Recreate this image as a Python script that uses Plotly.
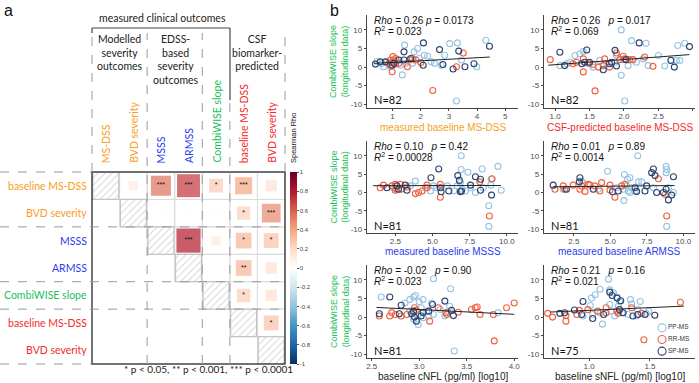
import math
import plotly.graph_objects as go

W, H = 699, 383
def px(x): return x / W
def py(y): return 1 - y / H

ORANGE = "#f5a122"
BLUE = "#2b3cf0"
GREEN = "#22c05a"
RED = "#f52a2a"
C_PP = "#97c4e3"
C_RR = "#f2603e"
C_SP = "#2b4470"

# ---------------- panel a data ----------------
row_labels = ["baseline MS-DSS", "BVD severity", "MSSS", "ARMSS", "CombiWISE slope", "baseline MS-DSS", "BVD severity"]
col_labels = ["MS-DSS", "BVD severity", "MSSS", "ARMSS", "CombiWISE slope", "baseline MS-DSS", "BVD severity"]
label_colors = [ORANGE, ORANGE, BLUE, BLUE, GREEN, RED, RED]
rho = [
    [None, 0.12, 0.55, 0.72, 0.26, 0.40, 0.17],
    [None, None, 0.02, 0.02, -0.03, 0.24, 0.48],
    [None, None, None, 0.80, 0.12, 0.34, 0.30],
    [None, None, None, None, 0.01, 0.34, 0.18],
    [None, None, None, None, None, 0.25, 0.18],
    [None, None, None, None, None, None, 0.30],
    [None, None, None, None, None, None, None],
]
stars = [
    ["", "", "***", "***", "*", "***", ""],
    ["", "", "", "", "", "*", "***"],
    ["", "", "", "***", "", "*", "*"],
    ["", "", "", "", "", "**", ""],
    ["", "", "", "", "", "*", ""],
    ["", "", "", "", "", "", "*"],
    ["", "", "", "", "", "", ""],
]
cbar_vals = [1, 0.8, 0.6, 0.4, 0.2, 0, -0.2, -0.4, -0.6, -0.8, -1]
cbar_text = ["1", "0.8", "0.6", "0.4", "0.2", "0", "-0.2", "-0.4", "-0.6", "-0.8", "-1"]

# ---------------- panel b data ----------------
# Panel 1: measured baseline MS-DSS
p1_pp_x = [1.43,1.77,1.89,2.13,2.25,2.85,3.03,3.3,3.45,3.99,4.31,1.35,3.27,2.37,1.59,1.29,0.69,0.81,1.17,1.71,2.49,2.73,1.95,1.47,0.93,0.63,0.45]
p1_pp_y = [5.9,4.1,5.0,3.2,2.9,3.2,6.3,6.5,1.9,0.1,7.2,-2.1,-9.1,1.4,1.9,0.5,0.1,1.4,1.9,1.0,1.0,0.5,2.3,1.0,0.1,1.0,1.5]
p1_sp_x = [2.1,1.41,2.67,3.35,4.44,2.09,2.79,3.15,3.57,3.89,0.75,1.05,1.23,1.41,0.99,1.65,0.57,0.4]
p1_sp_y = [6.5,4.1,4.7,4.3,5.6,0.5,0.7,-0.5,0.1,0.9,1.4,1.0,1.9,1.9,0.5,2.3,1.4,0.8]
p1_rr_x = [1.02,1.05,0.99,1.11,0.93,0.99,1.53,1.62,1.71,2.01,2.43,3.27,3.51,1.11,0.93,1.23,0.87,1.83]
p1_rr_y = [2.8,1.9,1.2,0.8,0.5,-1.25,0.1,2.05,2.3,1.2,-6.3,0.1,3.8,2.3,1.9,1.0,1.0,1.9]
p1_fit_x = [0.35, 4.45]
p1_fit_y = [1.0, 2.7]

# Panel 2: CSF-predicted baseline MS-DSS
p2_pp_x = [1.96,2.11,2.32,2.78,2.88,2.5,2.01,1.96,1.29,1.36,1.41,1.65,1.75,1.87,1.89,2.06,2.18,2.35,2.59,2.76,2.81,1.07,1.17,1.22,1.5,1.55,1.99,2.28]
p2_pp_y = [10.0,7.1,6.4,5.8,6.4,3.1,-9.1,-2.2,3.1,3.6,4.2,1.8,0.9,1.3,3.1,0.4,1.3,0.4,0.3,1.8,1.8,0.4,0.9,1.3,0.9,0.0,2.0,2.2]
p2_sp_x = [1.07,1.46,1.87,2.22,2.95,2.68,2.73,1.14,1.39,1.5,1.7,1.79,1.89,2.03,1.43,1.82]
p2_sp_y = [4.0,4.6,4.5,6.5,5.5,1.8,0.0,0.4,0.9,1.3,-0.7,0.9,0.3,2.0,1.3,1.3]
p2_rr_x = [0.93,1.41,1.41,1.48,1.55,1.63,1.7,1.79,1.58,1.89,1.94,2.01,2.08,2.13,2.3,2.42,1.99,1.72,1.26,1.31]
p2_rr_y = [2.0,2.2,-1.3,1.1,0.7,0.0,0.4,0.0,-6.4,3.8,2.0,2.2,2.0,2.0,2.7,0.2,2.9,2.2,0.9,1.3]
p2_fit_x = [0.9, 2.95]
p2_fit_y = [0.5, 3.35]

# Panel 3: measured baseline MSSS
p3_pp_x = [6.93,6.93,7.38,8.34,9.4,8.95,8.79,8.79,9.62,3.85,3.51,2.39,4.86,5.08,5.26,6.43,6.66,6.88,6.99,7.56,7.89,8.41,8.92,6.0,7.22,4.52]
p3_pp_y = [10.0,6.25,5.5,6.4,7.1,3.6,-3.6,-9.2,0.6,3.1,1.8,1.3,0.4,1.8,1.3,0.4,1.8,2.7,0.9,1.3,0.0,1.3,2.0,1.8,0.4,1.3]
p3_sp_x = [5.42,4.9,6.7,6.81,7.89,8.23,7.56,8.97,3.17,3.29,2.72,5.53,5.58,6.1,6.88,6.95,8.23,1.94,2.61]
p3_sp_y = [6.4,4.0,4.6,3.3,4.3,3.6,2.0,-0.7,2.0,0.6,0.9,1.3,0.2,0.4,0.2,0.4,0.6,1.3,1.8]
p3_rr_x = [1.71,2.5,2.61,2.84,2.88,2.5,3.85,4.07,4.3,4.63,4.63,5.53,5.53,8.18,9.01,8.83,2.28,1.49,3.29]
p3_rr_y = [2.0,2.2,0.9,2.2,0.9,0.6,-0.3,0.0,0.4,2.0,1.3,2.2,-1.3,2.9,3.75,-6.4,1.8,1.3,1.5]
p3_fit_x = [1.0, 9.6]
p3_fit_y = [1.85, 1.9]

# Panel 4: measured baseline ARMSS
p4_pp_x = [6.87,4.81,5.96,6.18,6.34,6.92,7.15,8.82,8.86,8.82,8.86,5.93,9.32,3.03,3.14,1.77,4.17,5.43,6.12,6.23,6.46,6.69,5.89,7.95,8.98,6.34]
p4_pp_y = [10.0,5.8,4.9,3.6,4.0,2.9,2.9,7.1,6.25,5.4,-9.2,-2.2,0.0,3.1,2.5,0.9,0.9,1.3,1.8,0.4,1.3,0.4,0.9,1.3,1.3,0.0]
p4_sp_x = [7.95,7.83,8.06,9.32,2.91,2.87,1.08,1.99,3.83,5.15,5.54,6.69,6.8,7.49,8.17,8.82,8.98,8.63,9.2,7.37]
p4_sp_y = [6.4,5.4,4.6,4.3,4.0,2.9,2.0,0.9,0.9,0.2,0.4,1.3,0.3,1.8,0.0,0.9,-2.0,0.0,-0.7,0.4]
p4_rr_x = [1.2,1.77,1.88,2.45,2.91,3.03,3.26,3.48,3.6,3.94,4.4,4.97,5.31,5.77,5.99,8.29,8.86,8.75,4.28,4.97]
p4_rr_y = [0.9,1.8,0.9,2.0,0.9,1.8,0.3,2.2,2.0,1.8,2.7,0.7,-1.3,1.8,2.2,3.75,-6.4,-0.45,0.4,2.0]
p4_fit_x = [1.1, 9.4]
p4_fit_y = [1.55, 1.9]

# Panel 5: baseline cNFL
p5_pp_x = [3.15,3.33,2.94,2.96,3.0,2.6,2.85,2.9,3.04,3.13,3.22,3.32,3.83,2.99,3.37,3.02,3.08,3.1,3.15,3.27,3.3,2.99,2.94,3.04,2.9]
p5_pp_y = [10.3,7.6,5.4,5.8,4.1,5.4,3.8,4.7,4.7,3.8,2.05,2.9,1.2,-2.0,-9.1,2.5,1.6,0.3,0.7,0.3,1.2,0.7,-0.6,-0.2,1.6]
p5_sp_x = [2.69,2.81,2.79,2.92,2.95,2.97,3.04,3.14,3.27,3.34,3.36,3.1,3.02,2.94,2.58]
p5_sp_y = [5.4,3.2,0.9,0.9,0.0,-1.1,1.2,3.4,4.3,1.8,0.4,1.6,0.3,1.6,0.9]
p5_rr_x = [2.71,2.75,2.81,2.87,2.95,2.97,3.11,3.2,3.28,3.29,3.41,3.55,3.59,3.61,3.64,3.78,3.92,4.0,3.79,2.69,2.58]
p5_rr_y = [1.2,0.7,0.3,0.7,2.5,1.8,-1.1,2.5,1.2,0.7,1.3,2.05,2.5,2.7,0.7,0.7,2.5,3.8,-6.4,0.3,0.3]
p5_fit_x = [2.55, 4.0]
p5_fit_y = [2.6, 0.75]

# Panel 6: baseline sNFL
p6_pp_x = [1.16,1.09,1.05,1.02,1.17,1.2,1.23,1.25,1.34,1.35,1.42,1.4,1.49,1.11,1.01,0.95,1.03,1.09,1.18,1.21,1.27,1.32,1.39,1.47,1.17,1.24]
p6_pp_y = [10.2,7.5,6.0,5.1,7.3,6.5,5.4,4.2,4.7,3.6,4.2,2.0,1.6,-1.9,3.1,0.3,0.7,1.15,1.6,0.3,1.15,0.7,0.3,1.0,3.4,2.9]
p6_sp_x = [1.17,1.19,1.23,1.26,0.95,0.88,0.76,0.8,0.94,1.03,1.12,1.25,1.28,1.4,1.46,1.54,1.36]
p6_sp_y = [6.7,5.8,5.1,4.4,4.2,1.9,1.0,1.15,0.7,-0.4,0.7,2.0,1.15,0.7,0.7,0.5,0.3]
p6_rr_x = [0.66,0.7,0.81,0.81,0.92,0.99,1.07,1.14,1.14,1.23,1.24,1.35,1.43,1.45,1.75,0.9]
p6_rr_y = [1.0,0.0,0.4,-1.1,1.8,2.0,1.6,1.15,2.5,1.6,1.0,2.5,1.0,-6.1,4.0,0.7]
p6_fit_x = [0.68, 1.78]
p6_fit_y = [1.35, 2.95]

y_ticks = [-10, -5, 0, 5, 10]
y_ticktext = ["-10", "-5", "0", "5", "10"]

panel_x_titles = ["measured baseline MS-DSS", "CSF-predicted baseline MS-DSS", "measured baseline MSSS",
                  "measured baseline ARMSS", "baseline cNFL (pg/ml) [log10]", "baseline sNFL (pg/ml) [log10]"]
panel_title_colors = [ORANGE, RED, BLUE, BLUE, "#222222", "#222222"]
panel_x_ranges = [[0.1, 5.45], [0.84, 3.03], [0.6, 10.75], [0.45, 10.8], [2.45, 4.04], [0.63, 1.87]]
panel_x_ticks = [[1, 2, 3, 4, 5], [1.0, 1.5, 2.0, 2.5, 3.0], [2.5, 5.0, 7.5, 10.0], [2.5, 5.0, 7.5, 10.0],
                 [2.5, 3.0, 3.5, 4.0], [1.0, 1.5]]
panel_x_ticktext = [["1", "2", "3", "4", "5"], ["1.0", "1.5", "2.0", "2.5", "3.0"], ["2.5", "5.0", "7.5", "10.0"],
                    ["2.5", "5.0", "7.5", "10.0"], ["2.5", "3.0", "3.5", "4.0"], ["1.0", "1.5"]]
panel_rho_text = ["<i>Rho</i> = 0.26 <i>p</i> = 0.0173", "<i>Rho</i> = 0.26 \u00a0 <i>p</i> = 0.017",
                  "<i>Rho</i> = 0.10 \u00a0 <i>p</i> = 0.42", "<i>Rho</i> = 0.01 \u00a0 <i>p</i> = 0.89",
                  "<i>Rho</i> = -0.02 \u00a0 <i>p</i> = 0.90", "<i>Rho</i> = 0.21 \u00a0 <i>p</i> = 0.16"]
panel_r2_text = ["0.023", "0.069", "0.00028", "0.0014", "0.023", "0.021"]
panel_n_text = ["N=82", "N=82", "N=81", "N=81", "N=81", "N=75"]
group_names = ["PP-MS", "RR-MS", "SP-MS"]

panel_data = [
    (p1_pp_x, p1_pp_y, p1_rr_x, p1_rr_y, p1_sp_x, p1_sp_y, p1_fit_x, p1_fit_y),
    (p2_pp_x, p2_pp_y, p2_rr_x, p2_rr_y, p2_sp_x, p2_sp_y, p2_fit_x, p2_fit_y),
    (p3_pp_x, p3_pp_y, p3_rr_x, p3_rr_y, p3_sp_x, p3_sp_y, p3_fit_x, p3_fit_y),
    (p4_pp_x, p4_pp_y, p4_rr_x, p4_rr_y, p4_sp_x, p4_sp_y, p4_fit_x, p4_fit_y),
    (p5_pp_x, p5_pp_y, p5_rr_x, p5_rr_y, p5_sp_x, p5_sp_y, p5_fit_x, p5_fit_y),
    (p6_pp_x, p6_pp_y, p6_rr_x, p6_rr_y, p6_sp_x, p6_sp_y, p6_fit_x, p6_fit_y),
]

# ---------------- geometry ----------------
MAT_L, MAT_R, MAT_T, MAT_B = 92, 285, 172, 364
CELL = (MAT_R - MAT_L) / 7
COLS_X = [(367, 518), (544, 695)]
ROWS_Y = [(15, 108), (141, 233), (265, 358)]
TITLE_OFFSET = [19, 19, 18.5]
LEG_BOX = (655, 699, 322, 357)

LFONT = "Lato, Open Sans, sans-serif"
AFONT = "Liberation Sans, Arial, sans-serif"

fig = go.Figure()
layout = dict(
    width=W, height=H, margin=dict(l=0, r=0, t=0, b=0, pad=0, autoexpand=False),
    paper_bgcolor="white", plot_bgcolor="rgba(0,0,0,0)",
    showlegend=False,
    font=dict(family=AFONT, color="#222"),
)
shapes = []
annotations = []

# ---- matrix axes
layout["xaxis"] = dict(domain=[px(MAT_L), px(MAT_R)], range=[-0.5, 6.5], visible=False, fixedrange=True)
layout["yaxis"] = dict(domain=[py(MAT_B), py(MAT_T)], range=[6.5, -0.5], visible=False, fixedrange=True)

for i in range(7):
    for j in range(i, 7):
        shapes.append(dict(type="rect", xref="x", yref="y", x0=j - 0.5, x1=j + 0.5, y0=i - 0.5, y1=i + 0.5,
                           line=dict(color="#dcdcdc", width=1), layer="below"))

fig.add_trace(go.Bar(
    x=list(range(7)), y=[1] * 7, base=[i - 0.5 for i in range(7)], width=[0.94] * 7,
    xaxis="x", yaxis="y", showlegend=False, hoverinfo="skip",
    marker=dict(color="white", line=dict(color="#c4c4c4", width=1.2),
                pattern=dict(shape="/", fgcolor="#a8a8a8", bgcolor="white", size=5, solidity=0.18)),
))

mx, my, mc, ms = [], [], [], []
sx, sy, st = [], [], []
for i in range(7):
    for j in range(7):
        v = rho[i][j]
        if v is None:
            continue
        mx.append(j); my.append(i); mc.append(v)
        ms.append(max(math.sqrt(abs(v)) * CELL * 0.98, 1.5))
        if stars[i][j]:
            sx.append(j); sy.append(i); st.append(stars[i][j])

rdbu = [[0.0, "#053061"], [0.1, "#2166AC"], [0.2, "#4393C3"], [0.3, "#92C5DE"], [0.4, "#D1E5F0"],
        [0.5, "#FFFFFF"], [0.6, "#FDDBC7"], [0.7, "#F4A582"], [0.8, "#D6604D"], [0.9, "#B2182B"], [1.0, "#67001F"]]

fig.add_trace(go.Scatter(
    x=mx, y=my, mode="markers",
    xaxis="x", yaxis="y", showlegend=False, hoverinfo="skip",
    marker=dict(symbol="square", size=ms, color=mc, colorscale=rdbu, cmin=-1, cmax=1,
                line=dict(width=0),
                colorbar=dict(x=px(290), xanchor="left", y=py((MAT_T + MAT_B) / 2), yanchor="middle",
                              len=MAT_B - MAT_T, lenmode="pixels", thickness=7, thicknessmode="pixels",
                              outlinewidth=0, tickvals=cbar_vals, ticktext=cbar_text,
                              ticks="outside", ticklen=2, tickcolor="#555",
                              tickfont=dict(size=6, color="#444"), xpad=0, ypad=0)),
))
fig.add_trace(go.Scatter(
    x=sx, y=sy, mode="text", text=st, textposition="middle center",
    textfont=dict(size=7, color="#111", family=AFONT),
    xaxis="x", yaxis="y", showlegend=False, hoverinfo="skip",
))

shapes.append(dict(type="rect", xref="paper", yref="paper", x0=px(MAT_L), x1=px(MAT_R), y0=py(MAT_B), y1=py(MAT_T),
                   line=dict(color="#444", width=1.5), layer="above"))

DASH = dict(color="#9a9a9a", width=1, dash="dash")
for yy in [MAT_T, MAT_B]:
    shapes.append(dict(type="line", xref="paper", yref="paper", x0=0, x1=px(MAT_L), y0=py(yy), y1=py(yy), line=DASH))
for b in [1.5, 3.5, 4.5]:
    shapes.append(dict(type="line", xref="paper", yref="y", x0=0, x1=px(MAT_R), y0=b, y1=b, line=DASH))
for b in [1.5, 3.5, 4.5]:
    top = 100 if b == 4.5 else 33
    shapes.append(dict(type="line", xref="x", yref="paper", x0=b, x1=b, y0=py(MAT_B), y1=py(top), line=DASH))
for xx in [MAT_L, MAT_R]:
    shapes.append(dict(type="line", xref="paper", yref="paper", x0=px(xx), x1=px(xx), y0=py(MAT_T), y1=py(33), line=DASH))
SOLID = dict(color="#444", width=1.2)
shapes.append(dict(type="line", xref="paper", yref="paper", x0=px(MAT_L), x1=px(230), y0=py(28), y1=py(28), line=SOLID))
shapes.append(dict(type="line", xref="paper", yref="paper", x0=px(MAT_L), x1=px(MAT_L), y0=py(28), y1=py(33), line=SOLID))
shapes.append(dict(type="line", xref="paper", yref="paper", x0=px(230), x1=px(230), y0=py(28), y1=py(100), line=SOLID))

for i, lab in enumerate(row_labels):
    annotations.append(dict(x=px(89), y=i, xref="paper", yref="y", text=lab, showarrow=False,
                            xanchor="right", yanchor="middle", font=dict(family=LFONT, size=10.5, color=label_colors[i])))
for j, lab in enumerate(col_labels):
    annotations.append(dict(x=j, y=py(165), xref="x", yref="paper", text=lab, showarrow=False, textangle=-90,
                            xanchor="center", yanchor="bottom", font=dict(family=LFONT, size=10.5, color=label_colors[j])))
annotations.append(dict(x=px(293), y=py(165), xref="paper", yref="paper", text="Spearman Rho", showarrow=False,
                        textangle=-90, xanchor="center", yanchor="bottom", font=dict(family=AFONT, size=7.5, color="#111")))

headers = [("measured clinical outcomes", 162, 18), ("Modelled<br>severity<br>outcomes", 120, 52),
           ("EDSS-<br>based<br>severity<br>outcomes", 176, 59), ("CSF<br>biomarker-<br>predicted", 257, 52)]
for t, hx, hy in headers:
    annotations.append(dict(x=px(hx), y=py(hy), xref="paper", yref="paper", text=t, showarrow=False,
                            xanchor="center", yanchor="middle", font=dict(family=LFONT, size=10.5, color="#222")))
annotations.append(dict(x=px(208), y=py(369), xref="paper", yref="paper",
                        text="* p < 0.05, ** p < 0.001, *** p < 0.0001", showarrow=False,
                        xanchor="center", yanchor="middle", font=dict(family=LFONT, size=10, color="#222")))
annotations.append(dict(x=px(2), y=py(0), xref="paper", yref="paper", text="a", showarrow=False,
                        xanchor="left", yanchor="top", font=dict(family=AFONT, size=16, color="#111")))
annotations.append(dict(x=px(328), y=py(0), xref="paper", yref="paper", text="b", showarrow=False,
                        xanchor="left", yanchor="top", font=dict(family=AFONT, size=16, color="#111")))

colors = [C_PP, C_RR, C_SP]
for k, data in enumerate(panel_data):
    r, c = divmod(k, 2)
    n = k + 2
    xa, ya = f"x{n}", f"y{n}"
    x0, x1 = COLS_X[c]
    y0, y1 = ROWS_Y[r]
    axis_common = dict(showline=True, linecolor="#444", linewidth=1.2, ticks="outside", ticklen=2,
                       tickcolor="#444", tickfont=dict(size=8, color="#4d4d4d"), showgrid=False, zeroline=False,
                       fixedrange=True, automargin=False)
    layout[f"xaxis{n}"] = dict(domain=[px(x0), px(x1)], anchor=ya, range=panel_x_ranges[k],
                               tickvals=panel_x_ticks[k], ticktext=panel_x_ticktext[k],
                               ticklabelstandoff=-2, **axis_common)
    layout[f"yaxis{n}"] = dict(domain=[py(y1), py(y0)], anchor=xa, range=[-11, 14],
                               tickvals=y_ticks, ticktext=y_ticktext, **axis_common)
    for g in range(3):
        gx, gy = data[2 * g], data[2 * g + 1]
        fig.add_trace(go.Scatter(x=gx, y=gy, mode="markers", xaxis=xa, yaxis=ya, name=group_names[g],
                                 showlegend=False, hoverinfo="skip",
                                 marker=dict(symbol="circle-open", size=6, color=colors[g], line=dict(width=1.1))))
    fig.add_trace(go.Scatter(x=data[6], y=data[7], mode="lines", xaxis=xa, yaxis=ya, showlegend=False,
                             hoverinfo="skip", line=dict(color="#222", width=1)))
    annotations.append(dict(x=0.5, y=py(y1 + TITLE_OFFSET[r]), xref=f"{xa} domain", yref="paper",
                            text=panel_x_titles[k], showarrow=False, xanchor="center", yanchor="middle",
                            font=dict(family=AFONT, size=10, color=panel_title_colors[k])))
    if c == 0:
        annotations.append(dict(x=px(339.5), y=py((y0 + y1) / 2), xref="paper", yref="paper",
                                text="CombiWISE slope<br>(longitudinal data)", textangle=-90,
                                showarrow=False, xanchor="center", yanchor="middle",
                                font=dict(family=AFONT, size=9, color=GREEN)))
    annotations.append(dict(x=0.03, y=py(y0 + 5), xref=f"{xa} domain", yref="paper", text=panel_rho_text[k],
                            showarrow=False, xanchor="left", yanchor="middle",
                            font=dict(family=AFONT, size=10, color="#111")))
    annotations.append(dict(x=0.03, y=py(y0 + 16), xref=f"{xa} domain", yref="paper",
                            text=f"<i>R</i><sup>2</sup> = {panel_r2_text[k]}",
                            showarrow=False, xanchor="left", yanchor="middle",
                            font=dict(family=AFONT, size=10, color="#111")))
    annotations.append(dict(x=0.03, y=py(y1 - 8), xref=f"{xa} domain", yref="paper", text=panel_n_text[k],
                            showarrow=False, xanchor="left", yanchor="middle",
                            font=dict(family=LFONT, size=11, color="#111")))

# ---- compact legend (group key) drawn on its own small axes
lx0, lx1, ly0, ly1 = LEG_BOX
layout["xaxis8"] = dict(domain=[px(lx0), px(lx1)], range=[0, 1], visible=False, fixedrange=True, anchor="y8")
layout["yaxis8"] = dict(domain=[py(ly1), py(ly0)], range=[-0.5, 2.5], visible=False, fixedrange=True, anchor="x8")
for g in range(3):
    fig.add_trace(go.Scatter(x=[0.16], y=[2 - g], mode="markers+text", text=[group_names[g]],
                             textposition="middle right", xaxis="x8", yaxis="y8", showlegend=False,
                             hoverinfo="skip", cliponaxis=False,
                             textfont=dict(size=6.5, color="#333", family=AFONT),
                             marker=dict(symbol="circle-open", size=8, color=colors[g], line=dict(width=1.1))))

layout["shapes"] = shapes
layout["annotations"] = annotations
fig.update_layout(**layout)
fig.write_html("out.html", config={"displayModeBar": False, "staticPlot": True},
               post_script="document.body.style.margin='0';document.body.style.padding='0';"
                           "document.body.style.overflow='hidden';")
